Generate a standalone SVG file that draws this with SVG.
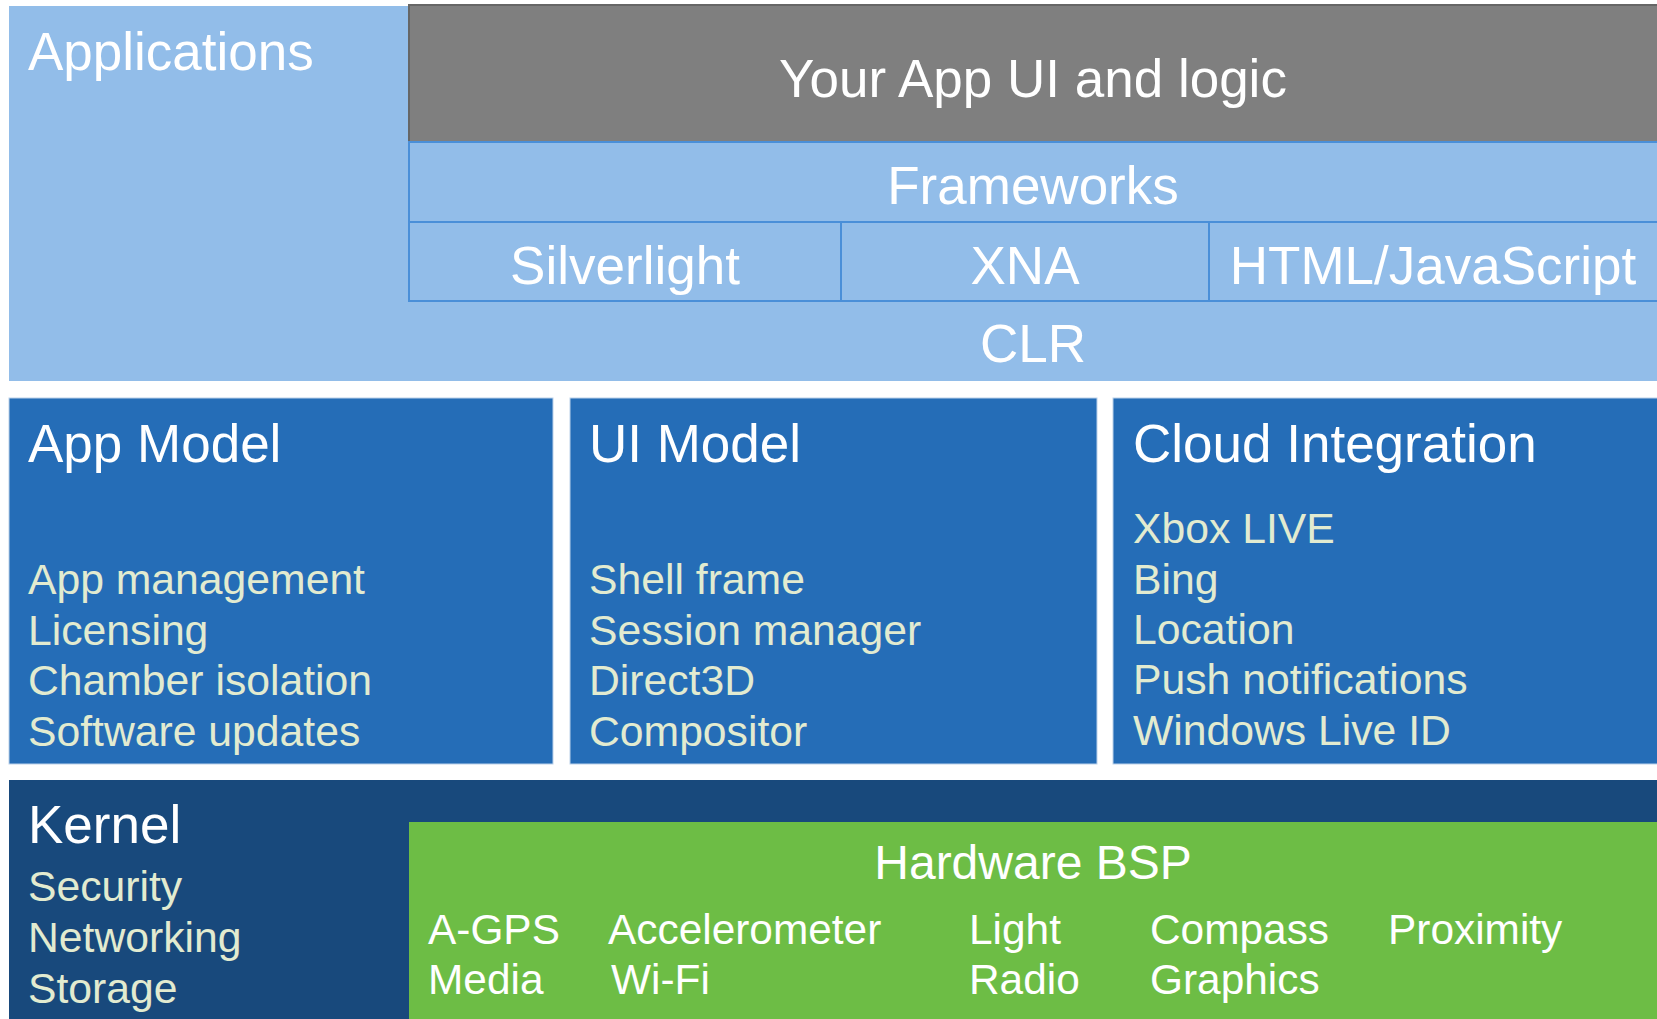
<svg xmlns="http://www.w3.org/2000/svg" width="1657" height="1019" viewBox="0 0 1657 1019">
<style>
text{font-family:"Liberation Sans",Arial,Helvetica,sans-serif}
.t{fill:#ffffff;font-size:53px}
.i{fill:#e2ebd0;font-size:42.7px}
.h{fill:#ffffff;font-size:42.4px}
.c{text-anchor:middle}
.fw{fill:#92bde9;stroke:#4a8fd8;stroke-width:2}
.mid{fill:#256db7;stroke:#bcd2ea;stroke-width:1}
</style>
<rect width="1657" height="1019" fill="#ffffff"/>
<g id="applications">
<rect x="9" y="6" width="1648" height="375" fill="#92bde9"/>
<text class="t" x="28" y="70">Applications</text>
</g>
<g id="your-app">
<rect x="409" y="5" width="1250" height="137" fill="#7f7f7f" stroke="#666666" stroke-width="2"/>
<text class="t c" x="1033" y="97">Your App UI and logic</text>
</g>
<g id="frameworks">
<rect class="fw" x="409" y="142" width="1250" height="80"/>
<text class="t c" x="1033" y="204">Frameworks</text>
</g>
<g id="silverlight">
<rect class="fw" x="409" y="222" width="432" height="79"/>
<text class="t c" x="625" y="284">Silverlight</text>
</g>
<g id="xna">
<rect class="fw" x="841" y="222" width="368" height="79"/>
<text class="t c" x="1025" y="284">XNA</text>
</g>
<g id="html-js">
<rect class="fw" x="1209" y="222" width="450" height="79"/>
<text class="t c" x="1433" y="284">HTML/JavaScript</text>
</g>
<g id="clr">
<text class="t c" x="1033" y="362">CLR</text>
</g>
<g id="app-model">
<rect class="mid" x="9" y="398" width="544" height="366"/>
<text class="t" x="28" y="462">App Model</text>
<text class="i" x="28" y="594">App management</text>
<text class="i" x="28" y="645">Licensing</text>
<text class="i" x="28" y="695">Chamber isolation</text>
<text class="i" x="28" y="746">Software updates</text>
</g>
<g id="ui-model">
<rect class="mid" x="570" y="398" width="527" height="366"/>
<text class="t" x="589" y="462">UI Model</text>
<text class="i" x="589" y="594">Shell frame</text>
<text class="i" x="589" y="645">Session manager</text>
<text class="i" x="589" y="695">Direct3D</text>
<text class="i" x="589" y="746">Compositor</text>
</g>
<g id="cloud-integration">
<rect class="mid" x="1113" y="398" width="546" height="366"/>
<text class="t" x="1133" y="462">Cloud Integration</text>
<text class="i" x="1133" y="543">Xbox LIVE</text>
<text class="i" x="1133" y="594">Bing</text>
<text class="i" x="1133" y="644">Location</text>
<text class="i" x="1133" y="694">Push notifications</text>
<text class="i" x="1133" y="745">Windows Live ID</text>
</g>
<g id="kernel">
<rect x="9" y="780" width="1650" height="241" fill="#18497c"/>
<text class="t" x="28" y="843">Kernel</text>
<text class="i" x="28" y="901">Security</text>
<text class="i" x="28" y="952">Networking</text>
<text class="i" x="28" y="1003">Storage</text>
</g>
<g id="hardware-bsp">
<rect x="409" y="822" width="1250" height="199" fill="#6dbd45"/>
<text class="c" x="1033" y="879" fill="#ffffff" font-size="48">Hardware BSP</text>
<text class="h" x="428" y="944">A-GPS</text>
<text class="h" x="428" y="994">Media</text>
<text class="h" x="608" y="944">Accelerometer</text>
<text class="h" x="611" y="994">Wi-Fi</text>
<text class="h" x="969" y="944">Light</text>
<text class="h" x="969" y="994">Radio</text>
<text class="h" x="1150" y="944">Compass</text>
<text class="h" x="1150" y="994">Graphics</text>
<text class="h" x="1388" y="944">Proximity</text>
</g>
<g id="connectors"></g>
</svg>
